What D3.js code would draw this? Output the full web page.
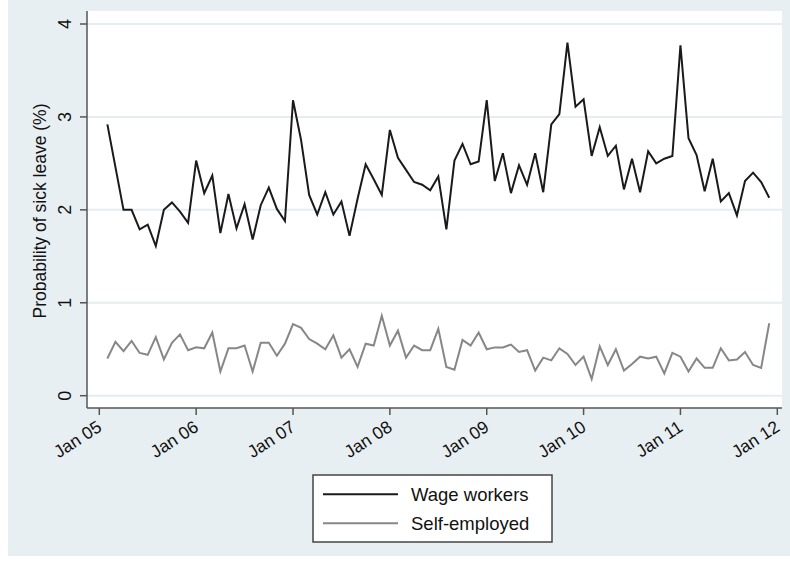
<!DOCTYPE html>
<html>
<head>
<meta charset="utf-8">
<script src="https://cdn.jsdelivr.net/npm/d3@7.9.0/dist/d3.min.js"></script>
<style>
  body { margin: 0; background: #fff; }
  svg text { font-family: "Liberation Sans", Arial, Helvetica, sans-serif; fill: #111; }
</style>
</head>
<body>
<svg id="chart" width="790" height="563"></svg>
<script>
// monthly series, Feb 2005 .. Dec 2011 (month index 1 = Feb 05, 0 = Jan 05)
const wageWorkers = [
  2.92, 2.46, 2.00, 2.00, 1.79, 1.84, 1.61, 2.00, 2.08, 1.98, 1.86,
  2.53, 2.18, 2.37, 1.75, 2.17, 1.80, 2.06, 1.68, 2.05, 2.24, 2.01, 1.88,
  3.18, 2.75, 2.16, 1.95, 2.19, 1.95, 2.09, 1.72, 2.12, 2.49, 2.33, 2.16,
  2.86, 2.56, 2.43, 2.30, 2.27, 2.21, 2.36, 1.79, 2.53, 2.71, 2.49, 2.52,
  3.18, 2.31, 2.61, 2.18, 2.48, 2.27, 2.61, 2.19, 2.92, 3.03, 3.80, 3.11,
  3.19, 2.58, 2.89, 2.58, 2.69, 2.22, 2.55, 2.19, 2.63, 2.50, 2.55, 2.58,
  3.77, 2.77, 2.59, 2.20, 2.55, 2.09, 2.18, 1.94, 2.31, 2.40, 2.30, 2.13
];
const selfEmployed = [
  0.40, 0.58, 0.48, 0.59, 0.46, 0.44, 0.63, 0.39, 0.57, 0.66, 0.49,
  0.52, 0.51, 0.68, 0.26, 0.51, 0.51, 0.54, 0.26, 0.57, 0.57, 0.43, 0.56,
  0.77, 0.73, 0.61, 0.56, 0.50, 0.65, 0.41, 0.50, 0.31, 0.56, 0.54, 0.86,
  0.54, 0.70, 0.41, 0.54, 0.49, 0.49, 0.72, 0.31, 0.28, 0.60, 0.54, 0.68,
  0.50, 0.52, 0.52, 0.55, 0.47, 0.49, 0.27, 0.41, 0.38, 0.51, 0.45, 0.33,
  0.42, 0.18, 0.53, 0.33, 0.50, 0.27, 0.34, 0.42, 0.40, 0.42, 0.24, 0.46,
  0.42, 0.26, 0.40, 0.30, 0.30, 0.51, 0.38, 0.39, 0.47, 0.33, 0.30, 0.78
];
const seriesNames = ["Wage workers", "Self-employed"];
const seriesColors = ["#1a1a1a", "#878787"];
const xTickLabels = ["Jan 05", "Jan 06", "Jan 07", "Jan 08", "Jan 09", "Jan 10", "Jan 11", "Jan 12"];
const yTicks = [0, 1, 2, 3, 4];

const svg = d3.select("#chart");

// outer (graph region) background
svg.append("rect").attr("x", 8).attr("y", 0).attr("width", 782).attr("height", 556).attr("fill", "#e8eff2");

// plot region
const plotL = 87, plotR = 782, plotT = 11, plotB = 408;
svg.append("rect").attr("x", plotL).attr("y", plotT).attr("width", plotR - plotL).attr("height", plotB - plotT).attr("fill", "#fff");

const x = d3.scaleLinear().domain([0, 84]).range([99.3, 777.3]);
const y = d3.scaleLinear().domain([0, 4]).range([395.7, 24]);

// gridlines
svg.append("g").selectAll("line").data(yTicks).join("line")
  .attr("x1", plotL).attr("x2", plotR)
  .attr("y1", d => y(d)).attr("y2", d => y(d))
  .attr("stroke", "#e4edf0").attr("stroke-width", 2);

// lines
const line = d3.line().x((d, i) => x(i + 1)).y(d => y(d));
[wageWorkers, selfEmployed].forEach((s, k) => {
  svg.append("path").datum(s)
    .attr("d", line)
    .attr("fill", "none")
    .attr("stroke", seriesColors[k])
    .attr("stroke-width", 2)
    .attr("stroke-linejoin", "miter");
});

// y axis
const yAxis = svg.append("g");
yAxis.append("line").attr("x1", plotL).attr("x2", plotL).attr("y1", plotT).attr("y2", plotB)
  .attr("stroke", "#555").attr("stroke-width", 1.5);
yAxis.selectAll(".tick").data(yTicks).join("line")
  .attr("x1", 80).attr("x2", plotL).attr("y1", d => y(d)).attr("y2", d => y(d))
  .attr("stroke", "#555").attr("stroke-width", 1.5);
yAxis.selectAll("text").data(yTicks).join("text")
  .attr("transform", d => `translate(70.5,${y(d)}) rotate(-90)`)
  .attr("text-anchor", "middle")
  .style("font-size", "18px")
  .text(d => d);

svg.append("text")
  .attr("transform", "translate(46,211) rotate(-90)")
  .attr("text-anchor", "middle")
  .style("font-size", "17.5px")
  .text("Probability of sick leave (%)");

// x axis
const xAxis = svg.append("g");
xAxis.append("line").attr("x1", plotL).attr("x2", plotR).attr("y1", plotB).attr("y2", plotB)
  .attr("stroke", "#555").attr("stroke-width", 1.5);
xAxis.selectAll(".tick").data(xTickLabels).join("line")
  .attr("x1", (d, i) => x(i * 12)).attr("x2", (d, i) => x(i * 12))
  .attr("y1", plotB).attr("y2", 415)
  .attr("stroke", "#555").attr("stroke-width", 1.5);
xAxis.selectAll("text").data(xTickLabels).join("text")
  .attr("transform", (d, i) => `translate(${x(i * 12) + 3.5},430) rotate(-33)`)
  .attr("text-anchor", "end")
  .style("font-size", "17.5px")
  .text(d => d);

// legend
const legend = svg.append("g");
legend.append("rect").attr("x", 313).attr("y", 475).attr("width", 239).attr("height", 67)
  .attr("fill", "#fff").attr("stroke", "#444").attr("stroke-width", 1.5);
seriesNames.forEach((name, k) => {
  const ly = 494.3 + k * 29;
  legend.append("line").attr("x1", 323).attr("x2", 398).attr("y1", ly).attr("y2", ly)
    .attr("stroke", seriesColors[k]).attr("stroke-width", 2);
  legend.append("text").attr("x", 411).attr("y", ly + 6.5)
    .style("font-size", "18.5px")
    .text(name);
});
</script>
</body>
</html>
